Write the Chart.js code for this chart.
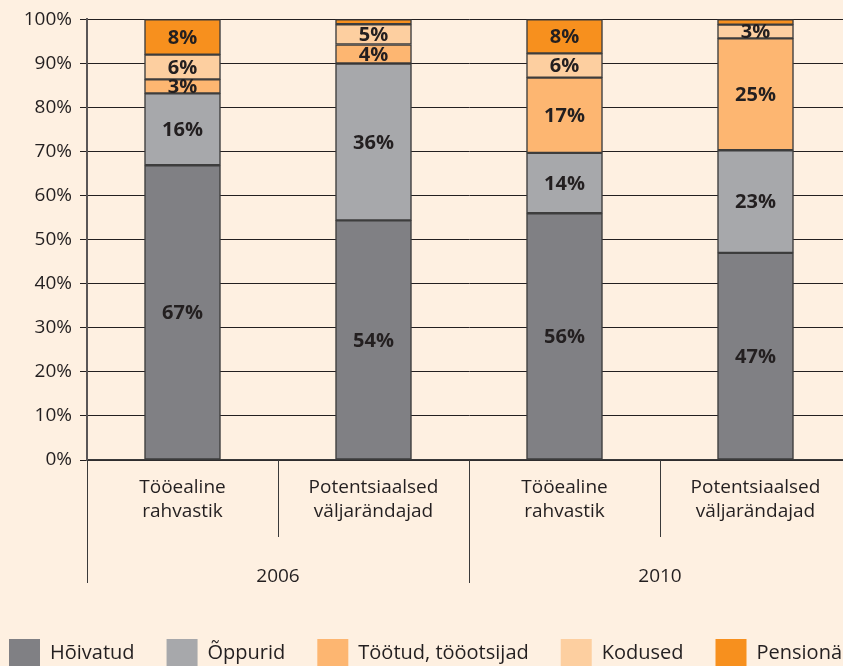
<!DOCTYPE html>
<html>
<head>
<meta charset="utf-8">
<script src="https://cdn.jsdelivr.net/npm/chart.js@4.4.1/dist/chart.umd.min.js"></script>
<style>
  html, body { margin: 0; padding: 0; background: #fef0e1; overflow: hidden; }
  #wrap { width: 900px; height: 666px; }
</style>
</head>
<body>
<div id="wrap"><canvas id="chart"></canvas></div>
<script>
// andmed
const categories = [
  ['Tööealine', 'rahvastik'],
  ['Potentsiaalsed', 'väljarändajad'],
  ['Tööealine', 'rahvastik'],
  ['Potentsiaalsed', 'väljarändajad']
];
const years = ['2006', '2010'];
const hoivatud    = [66.9, 54.4, 56.0, 47.0];
const oppurid     = [16.3, 35.6, 13.7, 23.3];
const tootud      = [3.2, 4.3, 17.1, 25.4];
const kodused     = [5.6, 4.6, 5.5, 3.1];
const pensionarid = [8.0, 1.1, 7.7, 1.2];
const yTicks = [0, 10, 20, 30, 40, 50, 60, 70, 80, 90, 100];

const ink = '#231f20';
const font = '"Open Sans", sans-serif';

// protsendid tulpade sisse
const barLabels = {
  id: 'barLabels',
  afterDatasetsDraw(chart) {
    const ctx = chart.ctx;
    ctx.save();
    ctx.font = 'bold 20px ' + font;
    ctx.fillStyle = ink;
    ctx.textAlign = 'center';
    ctx.textBaseline = 'middle';
    chart.data.datasets.forEach((ds, i) => {
      chart.getDatasetMeta(i).data.forEach((bar, j) => {
        const v = ds.data[j];
        if (v < 2) return;
        ctx.fillText(Math.round(v) + '%', bar.x, (bar.y + bar.base) / 2 + 1);
      });
    });
    ctx.restore();
  }
};

// aastate rühmad x-telje all
const yearGroups = {
  id: 'yearGroups',
  afterDraw(chart) {
    const ctx = chart.ctx;
    const x = chart.scales.x;
    const bottom = chart.chartArea.bottom;
    const per = categories.length / years.length;
    const step = x.getPixelForValue(1) - x.getPixelForValue(0);
    ctx.save();
    ctx.strokeStyle = '#3a3a3a';
    ctx.lineWidth = 1;
    for (let i = 0; i <= categories.length; i++) {
      const px = Math.round(x.getPixelForValue(0) - step / 2 + i * step) + 0.5;
      const len = (i % per === 0) ? 123 : 77;
      ctx.beginPath();
      ctx.moveTo(px, bottom);
      ctx.lineTo(px, bottom + len);
      ctx.stroke();
    }
    ctx.font = '19px ' + font;
    ctx.fillStyle = ink;
    ctx.textAlign = 'center';
    ctx.textBaseline = 'middle';
    years.forEach((y, g) => {
      const cx = x.getPixelForValue(g * per) - step / 2 + step * per / 2;
      ctx.fillText(y, cx, 577);
    });
    ctx.restore();
  }
};

// legend allservas, reas vasakult
const bottomLegend = {
  id: 'bottomLegend',
  afterDraw(chart) {
    const ctx = chart.ctx;
    ctx.save();
    ctx.font = '20px ' + font;
    ctx.textBaseline = 'middle';
    ctx.textAlign = 'left';
    let x = 9;
    const top = 639;
    chart.data.datasets.forEach(ds => {
      ctx.fillStyle = ds.backgroundColor;
      ctx.fillRect(x, top, 31, 28);
      ctx.fillStyle = ink;
      ctx.fillText(ds.label, x + 41, top + 14);
      x += 41 + ctx.measureText(ds.label).width + 32;
    });
    ctx.restore();
  }
};

const common = { borderColor: '#3d3d3d', borderWidth: 1.5, barThickness: 76, borderSkipped: false };

new Chart(document.getElementById('chart'), {
  type: 'bar',
  data: {
    labels: categories,
    datasets: [
      { label: 'Hõivatud', data: hoivatud, backgroundColor: '#808084', ...common },
      { label: 'Õppurid', data: oppurid, backgroundColor: '#a7a8ab', ...common },
      { label: 'Töötud, tööotsijad', data: tootud, backgroundColor: '#fdb671', ...common },
      { label: 'Kodused', data: kodused, backgroundColor: '#fdcfa0', ...common },
      { label: 'Pensionärid', data: pensionarid, backgroundColor: '#f7901e', ...common }
    ]
  },
  options: {
    responsive: true,
    maintainAspectRatio: false,
    animation: false,
    layout: { padding: { top: 19, right: 49, left: 0, bottom: 0 } },
    scales: {
      x: {
        stacked: true,
        grid: { display: false, drawTicks: false },
        border: { display: true, color: '#3a3a3a', width: 1.5 },
        ticks: { color: ink, font: { family: font, size: 19, lineHeight: 1.3 }, padding: 15, maxRotation: 0, autoSkip: false },
        afterFit(scale) { scale.height = 206; }
      },
      y: {
        stacked: true,
        min: 0,
        max: 100,
        afterBuildTicks(scale) { scale.ticks = yTicks.map(v => ({ value: v })); },
        grid: { color: ink, lineWidth: 1, tickLength: 7 },
        border: { display: true, color: '#5a5657', width: 2 },
        ticks: { color: ink, font: { family: font, size: 19 }, padding: 8, callback: v => v + '%' },
        afterFit(scale) { scale.width = 87; }
      }
    },
    plugins: {
      tooltip: { enabled: false },
      legend: { display: false }
    }
  },
  plugins: [barLabels, yearGroups, bottomLegend]
});
</script>
</body>
</html>
